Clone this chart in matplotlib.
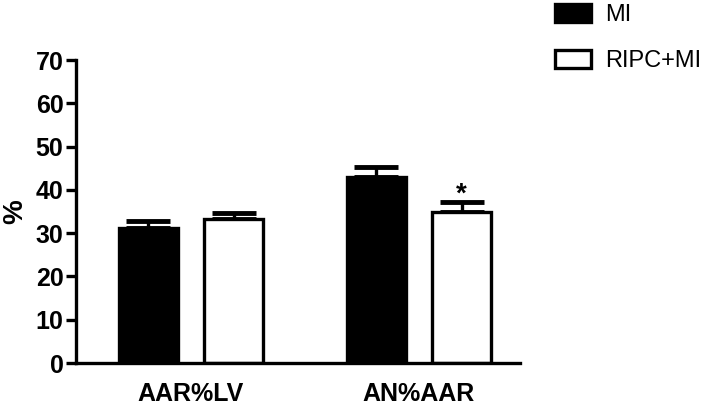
import numpy as np
import matplotlib.pyplot as plt

plt.rcParams['font.family'] = ['Liberation Sans', 'DejaVu Sans']

groups = ["AAR%LV", "AN%AAR"]
series = ["MI", "RIPC+MI"]
mi_mean = [31.1, 42.9]
mi_sem = [1.7, 2.4]
ripc_mean = [33.2, 34.8]
ripc_sem = [1.5, 2.4]
sig_marks = ["", "*"]  # for RIPC+MI

fig = plt.figure(figsize=(7.09, 4.11), dpi=100)
ax = fig.add_axes([76/709, 48/411, (520-76)/709, 303/411])

x = np.arange(len(groups))
w = 0.26
off = 0.1875
lw = 2.4

ax.bar(x - off, mi_mean, w, color="black", edgecolor="black", linewidth=lw, label=series[0], zorder=2)
ax.bar(x + off, ripc_mean, w, color="white", edgecolor="black", linewidth=lw, label=series[1], zorder=2)
ax.errorbar(x - off, mi_mean, yerr=[np.zeros(2), mi_sem], fmt="none", ecolor="black",
            elinewidth=lw, capsize=16, capthick=3.5, zorder=1)
ax.errorbar(x + off, ripc_mean, yerr=[np.zeros(2), ripc_sem], fmt="none", ecolor="black",
            elinewidth=lw, capsize=16, capthick=3.5, zorder=1)
for xi, m, s, t in zip(x + off, ripc_mean, ripc_sem, sig_marks):
    if t:
        ax.text(xi, m + s - 1.3, t, ha="center", va="bottom", fontsize=20, fontweight="bold")

ax.set_xlim(-0.504, 1.443)
ax.set_ylim(0, 70)
ax.set_yticks(range(0, 71, 10))
ax.set_xticks(x)
ax.set_xticklabels(groups, fontsize=18, fontweight="bold")
ax.tick_params(axis="x", length=0, pad=14)
ax.tick_params(axis="y", width=lw, length=7, labelsize=18, pad=2)
for lab in ax.get_yticklabels():
    lab.set_fontweight("bold")
ax.set_ylabel("%", fontsize=20, fontweight="bold", labelpad=5)
for sp in ["top", "right"]:
    ax.spines[sp].set_visible(False)
for sp in ["left", "bottom"]:
    ax.spines[sp].set_linewidth(lw)

fig.legend(loc="upper left", bbox_to_anchor=(555/709, 1 - 4/411), frameon=False, fontsize=17,
           handlelength=1.52, handleheight=0.8, labelspacing=1.0, handletextpad=0.6,
           borderaxespad=0, borderpad=0)

fig.savefig("out.png", dpi=100)
